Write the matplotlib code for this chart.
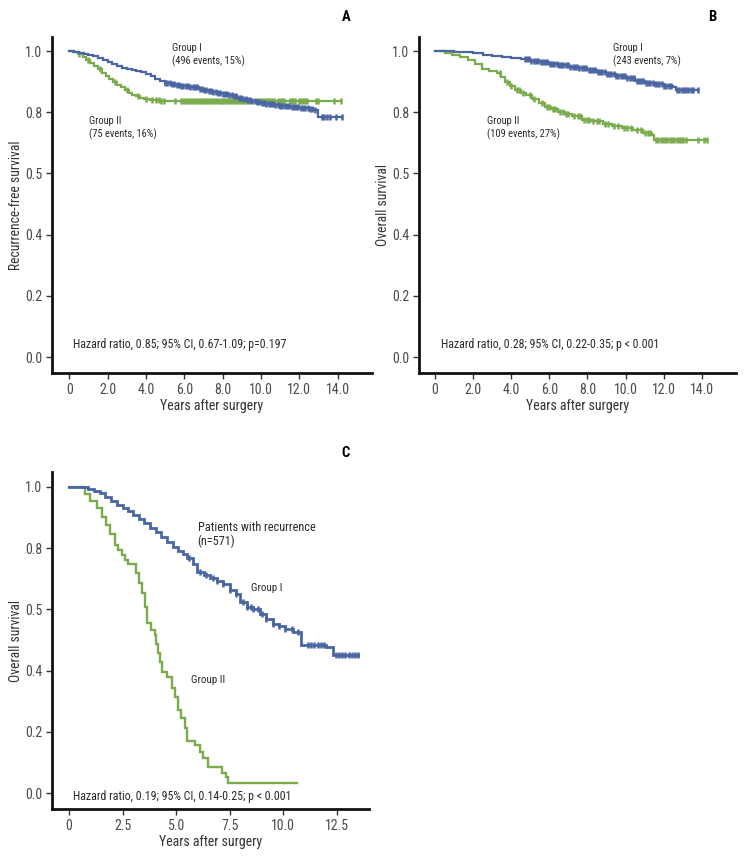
import numpy as np
import matplotlib
matplotlib.use("Agg")
import matplotlib.pyplot as plt
from matplotlib import font_manager as fm

# ---------- pick a condensed sans font if one is installed ----------
def pick_condensed():
    prefs = ['Liberation Sans Narrow', 'Arial Narrow', 'Roboto Condensed', 'Open Sans Condensed',
             'Noto Sans Condensed', 'DejaVu Sans Condensed']
    entries = fm.fontManager.ttflist
    for p in prefs:
        for f in entries:
            if f.name == p and f.weight in (400, 'normal', 'regular') and f.style == 'normal':
                return f.name, 'normal'
    for f in entries:
        low = f.fname.lower()
        if ('condensed' in low or 'narrow' in low) and 'bold' not in low and 'italic' not in low \
                and 'oblique' not in low and 'light' not in low and 'semi' not in low:
            return f.name, f.stretch
    return None, None


cond_name, cond_stretch = pick_condensed()
if cond_name:
    plt.rcParams['font.family'] = [cond_name, 'DejaVu Sans']
    plt.rcParams['font.stretch'] = cond_stretch
    FS = 1.0
else:
    plt.rcParams['font.family'] = ['Liberation Sans', 'DejaVu Sans']
    FS = 0.9

BLUE = "#4a66a2"
GREEN = "#7aac4e"

# ---------------- Panel A : recurrence-free survival ----------------
a_g1_t = [0, 0.25, 0.5, 0.75, 1.0, 1.25, 1.5, 1.75, 2.0, 2.25, 2.5, 2.75, 3.0, 3.25, 3.5, 3.75,
          4.0, 4.25, 4.5, 4.75, 5.0, 5.25, 5.5, 5.75, 6.0, 6.25, 6.5, 6.75, 7.0, 7.25, 7.5, 7.75,
          8.0, 8.25, 8.5, 8.75, 9.0, 9.25, 9.5, 9.75, 10.0, 10.25, 10.5, 10.75, 11.0,
          11.5, 12.0, 12.5, 12.75, 13.0, 14.26]
a_g1_s = [1.0, 0.997, 0.995, 0.992, 0.988, 0.984, 0.978, 0.972, 0.965, 0.957, 0.951, 0.946,
          0.942, 0.938, 0.934, 0.930, 0.925, 0.917, 0.909, 0.901, 0.895, 0.892, 0.889, 0.887,
          0.886, 0.884, 0.882, 0.877, 0.872, 0.869, 0.866, 0.863, 0.860, 0.856, 0.852, 0.848,
          0.844, 0.840, 0.836, 0.833, 0.830, 0.828, 0.826, 0.824, 0.822,
          0.818, 0.814, 0.811, 0.806, 0.785, 0.785]
a_g1_c = [5.0, 5.12, 5.24, 5.36, 5.48, 5.6, 5.72, 5.84, 5.96, 6.08, 6.2, 6.32, 6.44, 6.56,
          6.68, 6.8, 6.92, 7.04, 7.16, 7.28, 7.4, 7.52, 7.64, 7.76, 7.88, 8.0, 8.12, 8.24, 8.36,
          8.48, 8.6, 8.72, 8.84, 8.96, 9.08, 9.2, 9.32, 9.44, 9.56, 9.68, 9.8, 9.92, 10.04,
          10.16, 10.28, 10.4, 10.52, 10.64, 10.76, 10.88, 11.0, 11.12, 11.24, 11.36, 11.48,
          11.6, 11.72, 11.84, 11.96, 12.08, 12.2, 12.32, 12.44, 12.56, 12.68, 12.8, 13.2, 13.32,
          13.44, 13.6, 13.9, 14.26]
a_g2_t = [0, 0.2, 0.45, 0.7, 0.9, 1.1, 1.3, 1.5, 1.7, 1.9, 2.1, 2.3, 2.5, 2.7, 2.9, 3.1, 3.3,
          3.5, 3.7, 3.9, 4.2, 4.75, 14.2]
a_g2_s = [1.0, 0.997, 0.99, 0.982, 0.972, 0.962, 0.951, 0.94, 0.928, 0.917, 0.908, 0.899, 0.89,
          0.881, 0.872, 0.864, 0.857, 0.852, 0.848, 0.845, 0.841, 0.836, 0.836]
a_g2_c = [0.5, 1.0, 1.6, 2.4, 3.0, 3.6, 4.0, 4.3, 4.55, 4.68, 4.8, 4.92, 5.5, 5.85, 5.95, 6.05,
          6.15, 6.25, 6.35, 6.45, 6.55, 6.65, 6.75, 6.85, 6.95, 7.05, 7.15, 7.25, 7.35, 7.45,
          7.55, 7.65, 7.75, 7.85, 7.95, 8.05, 8.15, 8.25, 8.35, 8.45, 8.55, 8.65, 8.75, 8.85,
          8.95, 9.05, 9.15, 9.25, 9.35, 9.45, 9.8, 9.9, 10.0, 10.1, 10.2, 10.3, 10.4, 10.5,
          10.6, 10.7, 10.9, 11.0, 11.1, 11.2, 11.5, 11.6, 11.7, 11.8, 12.0, 12.1, 12.2, 12.3,
          12.4, 12.9, 13.0, 13.8, 14.2]

# ---------------- Panel B : overall survival ----------------
b_g1_t = [0, 0.5, 1.0, 1.5, 2.0, 2.5, 3.0, 3.5, 4.0, 4.5, 5.0, 5.5, 6.0, 6.5, 7.0, 7.5, 8.0,
          8.5, 9.0, 9.5, 10.0, 10.5, 11.0, 11.5, 12.0, 12.5, 12.65, 13.8]
b_g1_s = [1.0, 0.999, 0.998, 0.996, 0.993, 0.988, 0.985, 0.981, 0.977, 0.973, 0.969, 0.964,
          0.959, 0.954, 0.949, 0.944, 0.938, 0.932, 0.926, 0.920, 0.912, 0.903, 0.897, 0.891,
          0.886, 0.882, 0.872, 0.872]
b_g1_c = [4.7, 4.82, 4.94, 5.06, 5.18, 5.3, 5.42, 5.54, 5.66, 5.78, 5.9, 6.02, 6.14, 6.26,
          6.38, 6.5, 6.62, 6.74, 6.86, 6.98, 7.1, 7.22, 7.34, 7.46, 7.58, 7.7, 7.82, 7.94, 8.06,
          8.18, 8.3, 8.42, 8.54, 8.66, 8.78, 8.9, 9.02, 9.14, 9.26, 9.38, 9.5, 9.62, 9.74, 9.86,
          9.98, 10.1, 10.22, 10.34, 10.46, 10.58, 10.7, 10.82, 10.94, 11.06, 11.18, 11.3, 11.42,
          11.54, 11.66, 11.78, 11.9, 12.02, 12.14, 12.26, 12.38, 12.7, 12.82, 12.94, 13.06,
          13.18, 13.3, 13.42, 13.54, 13.8]
b_g2_t = [0, 0.5, 0.9, 1.3, 1.73, 2.1, 2.46, 2.85, 3.25, 3.45, 3.67, 3.95, 4.2, 4.5, 4.8, 5.1,
          5.45, 5.77, 6.1, 6.45, 6.8, 7.2, 7.7, 8.2, 8.8, 9.3, 9.8, 10.4, 10.9, 11.4, 11.5, 14.3]
b_g2_s = [1.0, 0.994, 0.987, 0.98, 0.971, 0.957, 0.943, 0.935, 0.927, 0.914, 0.90, 0.886,
          0.873, 0.864, 0.855, 0.845, 0.831, 0.818, 0.81, 0.802, 0.795, 0.788, 0.775, 0.77,
          0.763, 0.755, 0.748, 0.742, 0.733, 0.725, 0.711, 0.711]
b_g2_c = [3.4, 3.8, 4.0, 4.3, 4.4, 4.6, 5.0, 5.2, 5.6, 5.9, 6.0, 6.2, 6.3, 6.55, 6.7, 6.9, 7.0,
          7.3, 7.5, 7.6, 7.8, 8.0, 8.1, 8.3, 8.5, 8.6, 8.9, 9.1, 9.4, 9.6, 9.9, 10.1, 10.3,
          10.6, 10.8, 11.0, 11.2, 11.3, 11.6, 11.72, 11.84, 11.96, 12.08, 12.2, 12.32, 12.44,
          12.56, 12.68, 12.8, 12.92, 13.04, 13.16, 13.8, 14.1, 14.3]

# ---------------- Panel C : overall survival after recurrence ----------------
c_g1_t = [0, 0.65, 0.9, 1.15, 1.45, 1.7, 1.95, 2.24, 2.5, 2.75, 3.0, 3.25, 3.5, 3.78, 4.05,
          4.3, 4.57, 4.85, 5.1, 5.3, 5.5, 5.8, 5.97, 6.3, 6.6, 6.9, 7.2, 7.5, 7.8, 8.0, 8.3,
          8.6, 8.9, 9.2, 9.5, 9.8, 10.1, 10.45, 10.85, 12.0, 12.3, 13.5]
c_g1_s = [1.0, 1.0, 0.993, 0.987, 0.98, 0.968, 0.955, 0.941, 0.931, 0.92, 0.908, 0.895, 0.881,
          0.865, 0.852, 0.838, 0.821, 0.805, 0.792, 0.78, 0.767, 0.75, 0.723, 0.712, 0.703,
          0.693, 0.682, 0.665, 0.65, 0.625, 0.609, 0.6, 0.585, 0.57, 0.554, 0.545, 0.535,
          0.527, 0.484, 0.478, 0.451, 0.451]
c_g1_c = [5.6, 6.1, 6.4, 6.7, 6.9, 7.2, 7.5, 7.8, 8.1, 8.3, 8.5, 8.6, 8.8, 9.0, 9.2, 9.5, 9.8,
          10.1, 10.4, 10.7, 11.15, 11.3, 11.45, 11.6, 11.75, 11.9, 12.45, 12.6, 12.75, 12.9,
          13.05, 13.2, 13.35, 13.5]
c_g2_t = [0, 0.59, 0.75, 1.0, 1.29, 1.52, 1.72, 1.91, 2.14, 2.3, 2.46, 2.62, 2.77, 3.15, 3.25,
          3.39, 3.54, 3.62, 3.85, 4.0, 4.08, 4.17, 4.25, 4.32, 4.56, 4.79, 4.94, 5.1, 5.25, 5.4,
          5.49, 5.88, 6.11, 6.26, 6.5, 7.12, 7.35, 7.43, 10.62]
c_g2_s = [1.0, 1.0, 0.977, 0.955, 0.930, 0.902, 0.875, 0.848, 0.81, 0.795, 0.778, 0.763, 0.748,
          0.718, 0.685, 0.653, 0.609, 0.556, 0.533, 0.516, 0.487, 0.457, 0.427, 0.397, 0.38,
          0.342, 0.315, 0.271, 0.244, 0.211, 0.171, 0.157, 0.135, 0.113, 0.086, 0.066, 0.053,
          0.034, 0.034]

y_ticks = [0.0, 0.2, 0.4, 0.6, 0.8, 1.0]
y_tick_labels = ["0.0", "0.2", "0.4", "0.5", "0.8", "1.0"]
ab_x_ticks = [0, 2, 4, 6, 8, 10, 12, 14]
ab_x_tick_labels = ["0", "2.0", "4.0", "6.0", "8.0", "10.0", "12.0", "14.0"]
c_x_ticks = [0, 2.5, 5.0, 7.5, 10.0, 12.5]
c_x_tick_labels = ["0", "2.5", "5.0", "7.5", "10.0", "12.5"]

W, H = 746, 864
fig = plt.figure(figsize=(W / 100, H / 100), dpi=100)


def px_axes(l, t, r, b):
    return fig.add_axes([l / W, 1 - b / H, (r - l) / W, (b - t) / H])


def km(ax, t, s, c, color, lw=1.6, ms=4.5, mew=1.8):
    ax.step(t, s, where='post', color=color, lw=lw, solid_joinstyle='miter')
    if c:
        c = np.asarray(c)
        idx = np.searchsorted(t, c, side='right') - 1
        ys = np.asarray(s)[idx]
        ax.plot(c, ys, ls='none', marker='|', color=color, ms=ms, mew=mew)


def style(ax, xlim, ylim, xticks, xlabels, ylabel):
    ax.set_xlim(*xlim)
    ax.set_ylim(*ylim)
    for sp in ['top', 'right']:
        ax.spines[sp].set_visible(False)
    for sp in ['left', 'bottom']:
        ax.spines[sp].set_linewidth(2.0)
        ax.spines[sp].set_color('#111111')
    ax.set_yticks(y_ticks)
    ax.set_yticklabels(y_tick_labels)
    ax.set_xticks(xticks)
    ax.set_xticklabels(xlabels)
    ax.tick_params(direction='out', length=4, width=1.0, colors='#333333',
                   labelsize=10 * FS, labelcolor='#4a4a4a', pad=3)
    ax.set_ylabel(ylabel, fontsize=9.8 * FS, color='#333333')
    ax.set_xlabel("Years after surgery", fontsize=10 * FS, color='#333333')
    h = ax.get_position().height * H
    w = ax.get_position().width * W
    ax.yaxis.set_label_coords(-29 / w, 0.5)
    ax.xaxis.set_label_coords(0.5, -26 / h)


TXT = '#2a2a2a'
GFS = 7.6

# Panel A
axA = px_axes(52, 37, 372, 373)
km(axA, a_g2_t, a_g2_s, a_g2_c, GREEN)
km(axA, a_g1_t, a_g1_s, a_g1_c, BLUE)
style(axA, (-0.9, 15.8), (-0.052, 1.046), ab_x_ticks, ab_x_tick_labels, "Recurrence-free survival")
axA.text(5.35, 1.027, "Group I\n(496 events, 15%)", fontsize=GFS * FS, color=TXT, va='top',
         linespacing=1.3)
axA.text(1.05, 0.788, "Group II\n(75 events, 16%)", fontsize=GFS * FS, color=TXT, va='top',
         linespacing=1.3)
axA.text(0.2, 0.042, "Hazard ratio, 0.85; 95% CI, 0.67-1.09; p=0.197", fontsize=8.6 * FS,
         color=TXT, va='center')
fig.text(346 / W, 1 - 17 / H, "A", fontsize=10.5, fontweight='bold', ha='center', va='center')

# Panel B
axB = px_axes(419, 37, 736, 373)
km(axB, b_g2_t, b_g2_s, b_g2_c, GREEN)
km(axB, b_g1_t, b_g1_s, b_g1_c, BLUE)
style(axB, (-0.84, 15.8), (-0.052, 1.046), ab_x_ticks, ab_x_tick_labels, "Overall survival")
axB.text(9.35, 1.027, "Group I\n(243 events, 7%)", fontsize=GFS * FS, color=TXT, va='top',
         linespacing=1.3)
axB.text(2.75, 0.788, "Group II\n(109 events, 27%)", fontsize=GFS * FS, color=TXT, va='top',
         linespacing=1.3)
axB.text(0.3, 0.042, "Hazard ratio, 0.28; 95% CI, 0.22-0.35; p < 0.001", fontsize=8.6 * FS,
         color=TXT, va='center')
fig.text(712 / W, 1 - 17 / H, "B", fontsize=10.5, fontweight='bold', ha='center', va='center')

# Panel C
axC = px_axes(52, 472, 369, 809)
km(axC, c_g2_t, c_g2_s, [], GREEN, lw=1.7)
km(axC, c_g1_t, c_g1_s, c_g1_c, BLUE, lw=2.0)
style(axC, (-0.79, 14.0), (-0.052, 1.049), c_x_ticks, c_x_tick_labels, "Overall survival")
axC.text(6.0, 0.89, "Patients with recurrence\n(n=571)", fontsize=8.8 * FS, color=TXT,
         va='top', linespacing=1.05)
axC.text(8.5, 0.67, "Group I", fontsize=7.9 * FS, color=TXT, va='center')
axC.text(5.7, 0.37, "Group II", fontsize=7.9 * FS, color=TXT, va='center')
axC.text(0.2, -0.012, "Hazard ratio, 0.19; 95% CI, 0.14-0.25; p < 0.001", fontsize=8.6 * FS,
         color=TXT, va='center')
fig.text(346 / W, 1 - 453 / H, "C", fontsize=10.5, fontweight='bold', ha='center', va='center')

fig.savefig("out.png", dpi=100, facecolor='white')
